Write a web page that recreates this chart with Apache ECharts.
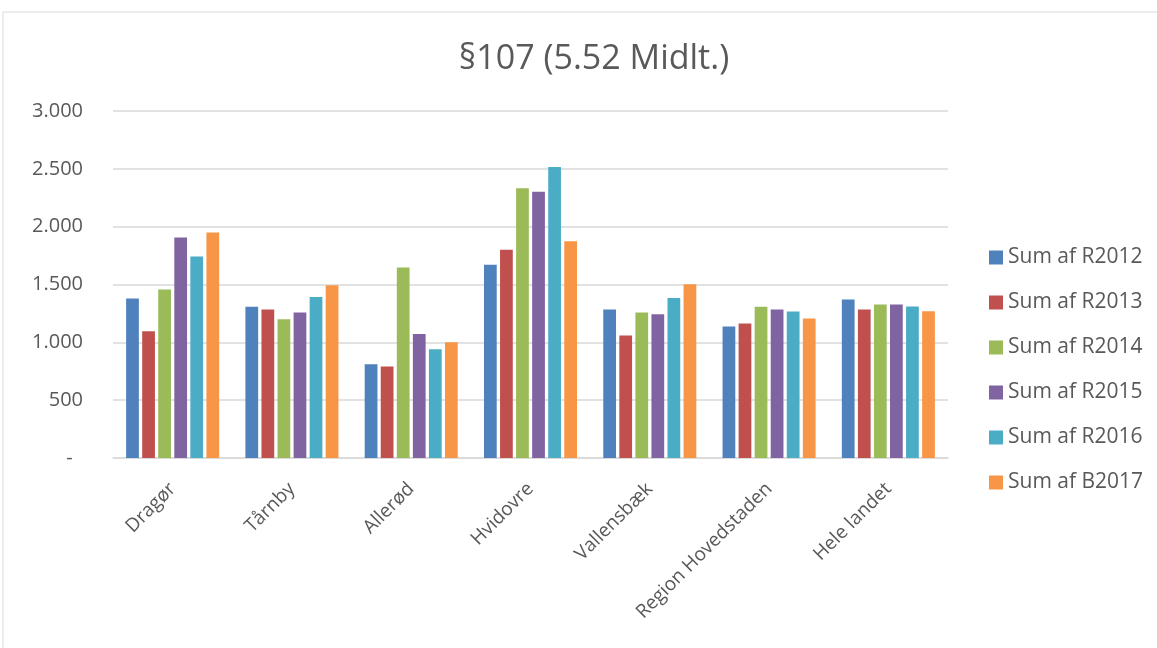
<!DOCTYPE html>
<html>
<head>
<meta charset="utf-8">
<script src="https://cdn.jsdelivr.net/npm/echarts@6/dist/echarts.min.js"></script>
<style>
html, body { margin:0; padding:0; background:#fff; }
#chart { width:1157px; height:648px; }
</style>
</head>
<body>
<div id="chart"></div>
<script>
var categories = ['Dragør', 'Tårnby', 'Allerød', 'Hvidovre', 'Vallensbæk', 'Region Hovedstaden', 'Hele landet'];
var seriesNames = ['Sum af R2012', 'Sum af R2013', 'Sum af R2014', 'Sum af R2015', 'Sum af R2016', 'Sum af B2017'];
var r2012 = [1379, 1307, 810, 1670, 1284, 1136, 1370];
var r2013 = [1096, 1284, 790, 1800, 1059, 1162, 1284];
var r2014 = [1457, 1200, 1647, 2333, 1258, 1307, 1327];
var r2015 = [1907, 1258, 1073, 2302, 1243, 1284, 1327];
var r2016 = [1742, 1393, 940, 2515, 1384, 1266, 1309];
var b2017 = [1950, 1494, 1001, 1875, 1503, 1206, 1269];
var colors = ['#4F81BD', '#C0504D', '#9BBB59', '#8064A2', '#4BACC6', '#F79646'];

var allData = [r2012, r2013, r2014, r2015, r2016, b2017];
var series = [];
for (var i = 0; i < seriesNames.length; i++) {
	series.push({
		name: seriesNames[i],
		type: 'bar',
		data: allData[i],
		barGap: '26%',
		barCategoryGap: '22%',
		itemStyle: { color: colors[i] }
	});
}

var chart = echarts.init(document.getElementById('chart'));
var option = {
	animation: false,
	color: colors,
	textStyle: { fontFamily: 'Open Sans' },
	graphic: [{
		type: 'rect',
		shape: { x: 3, y: 12, width: 1200, height: 700 },
		style: { fill: 'none', stroke: '#d9d9d9', lineWidth: 1 },
		silent: true
	}],
	title: {
		text: '§107 (5.52 Midlt.)',
		left: 589,
		textAlign: 'center',
		top: 37,
		textStyle: { fontSize: 34, fontWeight: 'normal', color: '#595959', fontFamily: 'Open Sans' }
	},
	legend: {
		orient: 'vertical',
		left: 989,
		top: 247,
		padding: 0,
		itemWidth: 14,
		itemHeight: 14,
		itemGap: 24,
		icon: 'rect',
		textStyle: { fontSize: 21, color: '#595959' }
	},
	grid: { left: 113, right: 209, top: 111, bottom: 190, containLabel: false },
	xAxis: {
		type: 'category',
		data: categories,
		axisLine: { lineStyle: { color: '#d9d9d9', width: 1.5 } },
		axisTick: { show: false },
		axisLabel: { rotate: 45, color: '#595959', fontSize: 19, margin: 28, interval: 0 }
	},
	yAxis: {
		type: 'value',
		min: 0,
		max: 3000,
		interval: 500,
		axisLine: { show: false },
		axisTick: { show: false },
		splitLine: { lineStyle: { color: '#d9d9d9', width: 1.5 } },
		axisLabel: {
			color: '#595959',
			fontSize: 20,
			margin: 30,
			formatter: function (v) {
				if (v === 0) return '-  ';
				return v.toString().replace(/\B(?=(\d{3})+(?!\d))/g, '.');
			}
		}
	},
	series: series
};
chart.setOption(option);
</script>
</body>
</html>
